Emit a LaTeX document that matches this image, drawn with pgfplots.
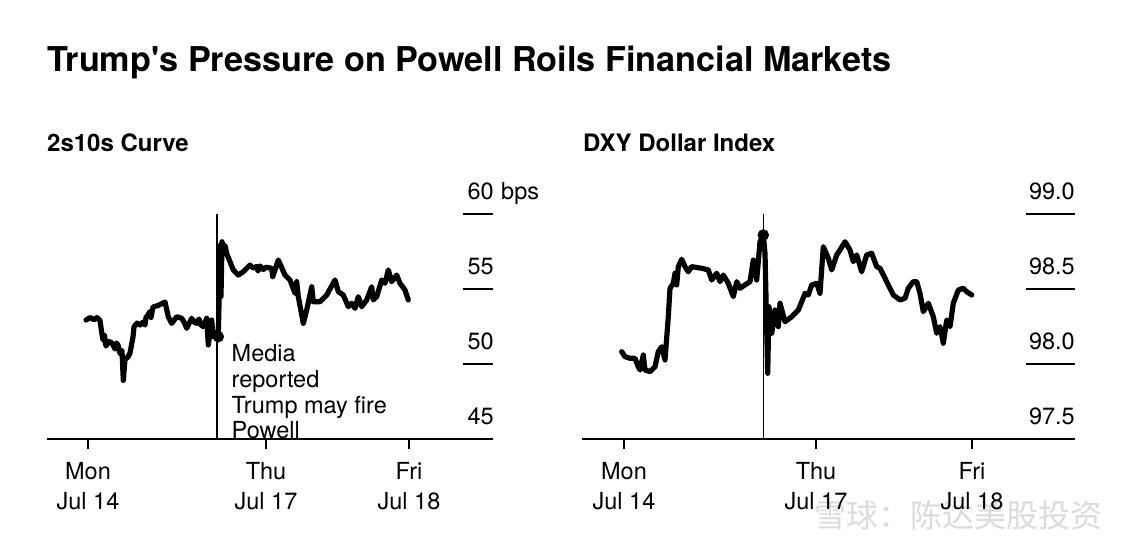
\documentclass[border=0pt]{standalone}
\usepackage{pgfplots}
\pgfplotsset{compat=1.18}
\usepackage{fontspec}
\setmainfont{TeX Gyre Heros}
\newfontfamily\cjk{Noto Sans CJK SC}

\pgfplotsset{
  panel/.style={
    scale only axis, clip=false,
    axis x line*=bottom, axis y line=none,
    x axis line style={-, line width=2pt, black},
    xtick style={line width=1.3pt, black},
    major tick length=10pt, tick align=outside,
    xticklabels={},
    width=446pt, height=225pt,
  },
  dataline/.style={black, line width=5.2pt, line join=round, line cap=round, mark=none},
}
\newcommand{\lbl}{\fontsize{23.5}{28}\selectfont}

\begin{document}
\begin{tikzpicture}[x=1pt,y=1pt]
\useasboundingbox (0,0) rectangle (1138,554);
\fill[white] (0,0) rectangle (1138,554);

% titles
\node[anchor=base west, inner sep=0, font=\fontsize{34.2}{40}\selectfont\bfseries] at (47,482.3)
  {Trump\textquotesingle s Pressure on Powell Roils Financial Markets};
\node[anchor=base west, inner sep=0, font=\fontsize{24}{29}\selectfont\bfseries] at (47,402.3) {2s10s Curve};
\node[anchor=base west, inner sep=0, font=\fontsize{24}{29}\selectfont\bfseries] at (583,402.3) {DXY Dollar Index};

% annotation (drawn before the axis so the axis line covers it)
\node[anchor=base west, inner sep=0, font=\lbl] at (231.5,192.3) {Media};
\node[anchor=base west, inner sep=0, font=\lbl] at (231.5,166.5) {reported};
\node[anchor=base west, inner sep=0, font=\lbl] at (231.5,140.7) {Trump may fire};
\node[anchor=base west, inner sep=0, font=\lbl] at (231.5,115) {Powell};

% watermark
\node[anchor=center, inner sep=0, text=gray!28, font=\cjk\fontsize{32}{32}\selectfont] at (958,39) {雪球：陈达美股投资};

% ---------------- Left panel: 2s10s curve ----------------
\begin{axis}[panel, at={(47pt,115pt)}, anchor=south west,
  xmin=47, xmax=493, ymin=45, ymax=60, xtick={88,266,409}]
\draw[line width=1.6pt] (axis cs:217,45) -- (axis cs:217,60);
\foreach \v in {50,55,60} { \edef\tmp{\noexpand\draw[line width=1.5pt] (axis cs:463,\v) -- (axis cs:493,\v);} \tmp }
\addplot[dataline] coordinates {
(86,52.93) (90,53.1) (94,52.95) (97,53.1) (100,52.9) (101.5,52.2) (103,51.6) (104.5,51.9)
(106,51.2) (109,51.5) (112,51.4) (115,51.0) (116.5,51.4)
(118,51.27) (120,50.7) (122,50.9) (123.3,48.9) (125,50.3) (128,50.47) (130,50.73)
(133,51.8) (134,52.47) (137,52.73) (140,52.6) (143,52.8) (145,52.6) (146,53.1) (148,53.27)
(150,53.5) (151,53.1) (153,53.8) (158,53.9) (165,54.13) (168.3,53.15) (171.7,52.71) (176.7,53.15)
(181.7,53.05) (184,52.8) (186.7,52.38) (191.7,53.05) (194,52.8) (196.7,52.71) (199,53.0) (201,52.6) (203.3,52.49)
(206.7,53.05) (208.3,51.27) (211.7,52.93) (213.3,51.82) (216,52.1) (218.3,51.82)
(219,54.0) (220,57.9) (221,54.5) (222,58.15) (223.5,57.6) (225,57.9) (227,57.3)
(230,56.82) (233.3,56.27) (238.3,55.93) (243.3,56.15) (250,56.6) (253,56.4)
(256.7,56.5) (258,56.2) (260,56.53) (263.3,56.3) (266,56.45) (271.7,56.38) (272.7,55.82)
(278.3,56.93) (285,55.93) (290,55.6) (295,54.71) (296.7,55.49) (298.3,54.49)
(303.3,52.71) (306.7,53.6) (311.7,55.15) (313.3,54.15) (320,54.15) (326.7,54.6)
(335,55.6) (338.3,54.82) (343.3,54.6) (348.3,53.82) (351.7,54.05) (355,53.71)
(358.3,54.49) (361.7,53.82) (366.7,54.27) (371.7,55.15) (373.3,54.27) (376.7,54.49)
(381.7,55.6) (385,55.38) (388.3,56.27) (391.7,55.49) (396.7,55.93) (400,55.38)
(405,54.93) (408.3,54.27)
};
\addplot[only marks, mark=*, mark size=5.5pt, black] coordinates {(218.3,51.82)};
% y labels
\foreach \v in {45,50,55,60} { \edef\tmp{\noexpand\node[anchor=base east, inner sep=0, font=\noexpand\lbl] at (axis cs:494,\v) [yshift=14pt] {\v};} \tmp }
\node[anchor=base west, inner sep=0, font=\lbl] at (axis cs:494,60) [xshift=7pt, yshift=14pt] {bps};
% x labels
\node[anchor=base, inner sep=0, font=\lbl] at (axis cs:88,45) [yshift=-41pt] {Mon};
\node[anchor=base, inner sep=0, font=\lbl] at (axis cs:88,45) [yshift=-70.3pt] {Jul 14};
\node[anchor=base, inner sep=0, font=\lbl] at (axis cs:266,45) [yshift=-41pt] {Thu};
\node[anchor=base, inner sep=0, font=\lbl] at (axis cs:266,45) [yshift=-70.3pt] {Jul 17};
\node[anchor=base, inner sep=0, font=\lbl] at (axis cs:409,45) [yshift=-41pt] {Fri};
\node[anchor=base, inner sep=0, font=\lbl] at (axis cs:409,45) [yshift=-70.3pt] {Jul 18};
\end{axis}

% ---------------- Right panel: DXY ----------------
\begin{axis}[panel, at={(582pt,115pt)}, anchor=south west, width=493pt,
  xmin=582, xmax=1075, ymin=97.5, ymax=99.0, xtick={624,816,972}]
\draw[line width=1.6pt] (axis cs:763.3,97.5) -- (axis cs:763.3,99.0);
\foreach \v in {98.0,98.5,99.0} { \edef\tmp{\noexpand\draw[line width=1.5pt] (axis cs:1026,\v) -- (axis cs:1075,\v);} \tmp }
\addplot[dataline] coordinates {
(621.7,98.082) (625,98.049) (630,98.038) (635,98.038) (638.3,97.982) (640,97.96)
(643.3,98.06) (645,97.96) (650,97.949) (655,97.982) (658.3,98.082) (661.7,98.115)
(665,98.027) (668.3,98.315) (670,98.505) (673.3,98.538) (675,98.605) (676.7,98.527)
(678.3,98.649) (681.7,98.698) (685,98.649) (688.3,98.615) (691.7,98.649) (701.7,98.638)
(708.3,98.627) (711.7,98.56) (716.7,98.605) (720,98.549) (723.3,98.593) (728.3,98.538)
(733.3,98.449) (736.7,98.549) (740,98.505) (745,98.527) (750,98.549) (753.3,98.693)
(756.7,98.56) (760,98.815) (763.3,98.86) (765,98.738) (767.7,97.938) (769,98.382)
(771.7,98.205) (775,98.36) (778.3,98.249) (780,98.405) (785,98.282) (791.7,98.315)
(798.3,98.36) (801.7,98.415) (805,98.471) (808.3,98.46) (811.7,98.527) (816.7,98.538)
(820,98.471) (823.3,98.782) (828.3,98.705) (831.7,98.627) (836.7,98.727) (840,98.76)
(845,98.815) (850,98.76) (853.3,98.682) (856.7,98.727) (861.7,98.615) (866.7,98.727)
(871.7,98.738) (876.7,98.649) (880,98.638) (888.3,98.527) (893.3,98.46) (900,98.427)
(905,98.438) (908.3,98.505) (913.3,98.549) (916.7,98.549) (920,98.471) (923.3,98.349)
(928.3,98.405) (933.3,98.315) (936.7,98.205) (940,98.249) (943.3,98.138) (946.7,98.293)
(950,98.249) (953.3,98.405) (958.3,98.493) (963.3,98.505) (966.7,98.482) (971.7,98.46)
};
\addplot[only marks, mark=*, mark size=5.5pt, black] coordinates {(763.3,98.86)};
\foreach \v in {97.5,98.0,98.5,99.0} { \edef\tmp{\noexpand\node[anchor=base east, inner sep=0, font=\noexpand\lbl] at (axis cs:1075,\v) [yshift=14pt] {\v};} \tmp }
\node[anchor=base, inner sep=0, font=\lbl] at (axis cs:624,97.5) [yshift=-41pt] {Mon};
\node[anchor=base, inner sep=0, font=\lbl] at (axis cs:624,97.5) [yshift=-70.3pt] {Jul 14};
\node[anchor=base, inner sep=0, font=\lbl] at (axis cs:816,97.5) [yshift=-41pt] {Thu};
\node[anchor=base, inner sep=0, font=\lbl] at (axis cs:816,97.5) [yshift=-70.3pt] {Jul 17};
\node[anchor=base, inner sep=0, font=\lbl] at (axis cs:972,97.5) [yshift=-41pt] {Fri};
\node[anchor=base, inner sep=0, font=\lbl] at (axis cs:972,97.5) [yshift=-70.3pt] {Jul 18};
\end{axis}
\end{tikzpicture}
\end{document}
